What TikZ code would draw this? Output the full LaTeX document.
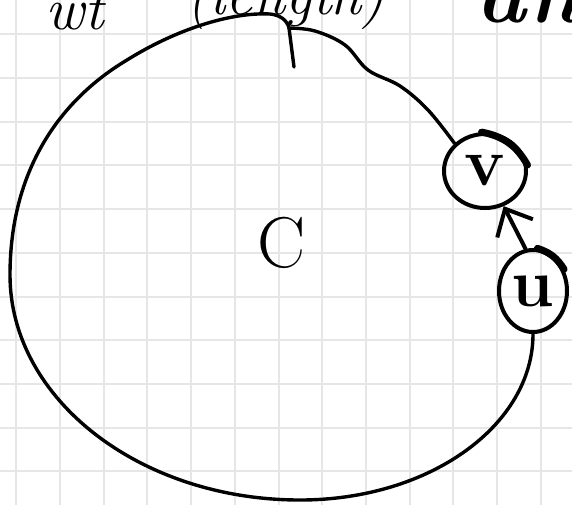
\documentclass[tikz,border=0pt]{standalone}
\usepackage{xcolor}
\usepackage{tikz}
\usetikzlibrary{positioning, arrows.meta, shapes.geometric}

\definecolor{gridgray}{HTML}{E6E6E6}

\begin{document}
\begin{tikzpicture}[
    x=0.5pt, y=-0.5pt,
    gridline/.style={gridgray, line width=1pt},
    stroke/.style={line width=1.7pt, line cap=round, line join=round},
    vertex/.style={draw, ellipse, line width=2pt, inner sep=0pt, font=\bfseries\fontsize{34}{34}\selectfont},
    heavy/.style={line width=3.5pt, line cap=round},
    edge/.style={line width=2pt, line cap=round, -{Straight Barb[length=11pt, width=20pt, line width=2pt]}},
    toptext/.style={anchor=base west, inner sep=0pt, font=\itshape\fontsize{30}{30}\selectfont}
]
\useasboundingbox (0,0) rectangle (572,505);

% paper grid
\foreach \gx in {0,...,12}
    \draw[gridline] ({16.3+43.7*\gx},0) -- ({16.3+43.7*\gx},505);
\foreach \gy in {0,...,10}
    \draw[gridline] (0,{34.3+43.7*\gy}) -- (572,{34.3+43.7*\gy});

% cut-off text at the top
\node[toptext] (wt) at (45,29) {wt};
\node[toptext] (len) at (186,14) {(length)};
\node[toptext, font=\bfseries\itshape\fontsize{42}{42}\selectfont] (an) at (476,22) {an};

\node[vertex, minimum width=41pt, minimum height=37pt] (v) at (485,171) {v};
\node[vertex, minimum width=34pt, minimum height=41pt] (u) at (533,291) {u};
\node[font=\fontsize{36}{36}\selectfont] (c) at (282,243) {C};

\coordinate (top) at (289,28);
\coordinate (tickend) at (294,67);

% the cycle
\draw[stroke] (u.south) .. controls (533,425) and (430,500) .. (300,500)
    .. controls (140,500) and (10,399) .. (10,275)
    .. controls (10,170) and (60,100) .. (127,60)
    .. controls (175,30) and (230,12) .. (270,14)
    .. controls (280,15) and (287,20) .. (top);
\draw[stroke] (top) -- (tickend);
\draw[stroke] plot[smooth, tension=0.6] coordinates {(top) (315,31) (345,45) (368,70) (400,86) (428,110) (v.north west)};

\draw[heavy] (v.95) to[bend left=25] (v.8);
\draw[heavy] (u.84) to[bend left=20] (u.35);
\draw[edge] (u.100) -- (v.-62);
\end{tikzpicture}
\end{document}
